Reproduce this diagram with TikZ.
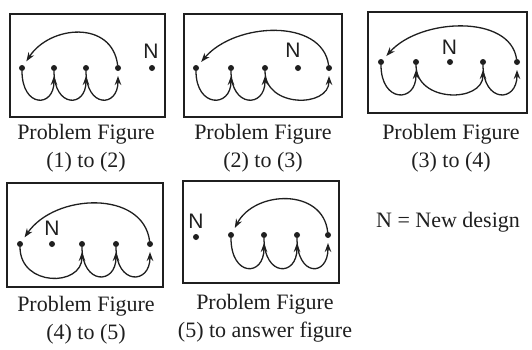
\documentclass[tikz,border=0pt]{standalone}
\usepackage{fontspec}
\setmainfont{Liberation Serif}
\newfontfamily\nfont{Liberation Sans}
\usetikzlibrary{arrows.meta}
\colorlet{ink}{black!88}
\tikzset{
  panel/.style={draw=ink, line width=1.3pt},
  dot/.style={circle, fill=ink, minimum size=6pt, inner sep=0pt, outer sep=0pt},
  arr/.style={draw=ink, line width=1.3pt, -{Stealth[length=9pt,width=6.5pt]}, shorten >=5pt},
  nlab/.style={font=\nfont\fontsize{21}{21}\selectfont, text=ink, inner sep=0pt},
  captext/.style={font=\fontsize{22}{28}\selectfont, align=center, text=ink, inner sep=0pt}
}
\begin{document}
\begin{tikzpicture}[x=1pt, y=-1pt]
\useasboundingbox (0,0) rectangle (532,349);
% Panel 1
\draw[panel] (10,14) rectangle (165,117);
\node[dot] (a1) at (22,68) {};
\node[dot] (a2) at (54,68) {};
\node[dot] (a3) at (86,68) {};
\node[dot] (a4) at (118,68) {};
\node[dot] (aN) at (152,68) {};
\node[nlab] (aNl) at (151,51) {N};
\draw[arr] (a4) .. controls (112,20) and (50,25) .. (a1);
\draw[arr] (a1) .. controls (22,108) and (54,108) .. (a2);
\draw[arr] (a2) .. controls (54,108) and (86,108) .. (a3);
\draw[arr] (a3) .. controls (86,108) and (118,108) .. (a4);
\node[captext] (c1) at (86,148) {Problem Figure\\(1) to (2)};
% Panel 2
\draw[panel] (184,14) rectangle (342,117);
\node[dot] (b1) at (196,68) {};
\node[dot] (b2) at (231,68) {};
\node[dot] (b3) at (265,68) {};
\node[dot] (bN) at (298,68) {};
\node[dot] (b4) at (329,68) {};
\node[nlab] (bNl) at (293,50) {N};
\draw[arr] (b4) .. controls (322,18) and (235,22) .. (b1);
\draw[arr] (b1) .. controls (196,108) and (231,108) .. (b2);
\draw[arr] (b2) .. controls (231,108) and (265,108) .. (b3);
\draw[arr] (b3) .. controls (265,108) and (329,108) .. (b4);
\node[captext] (c2) at (263,148) {Problem Figure\\(2) to (3)};
% Panel 3
\draw[panel] (368,12) rectangle (527,113);
\node[dot] (c1d) at (381,62) {};
\node[dot] (c2d) at (416,62) {};
\node[dot] (cN) at (450,62) {};
\node[dot] (c3d) at (483,62) {};
\node[dot] (c4d) at (517,62) {};
\node[nlab] (cNl) at (449.5,47) {N};
\draw[arr] (c4d) .. controls (510,14) and (420,18) .. (c1d);
\draw[arr] (c1d) .. controls (381,103) and (416,103) .. (c2d);
\draw[arr] (c2d) .. controls (416,103) and (483,103) .. (c3d);
\draw[arr] (c3d) .. controls (483,103) and (517,103) .. (c4d);
\node[captext] (c3) at (451,148) {Problem Figure\\(3) to (4)};
% Panel 4
\draw[panel] (7,183) rectangle (163,287);
\node[dot] (d1) at (20,244) {};
\node[dot] (dN) at (52,244) {};
\node[dot] (d2) at (82,244) {};
\node[dot] (d3) at (116,244) {};
\node[dot] (d4) at (150,244) {};
\node[nlab] (dNl) at (52,228) {N};
\draw[arr] (d4) .. controls (143,190) and (55,193) .. (d1);
\draw[arr] (d1) .. controls (20,287) and (82,287) .. (d2);
\draw[arr] (d2) .. controls (82,285) and (116,285) .. (d3);
\draw[arr] (d3) .. controls (116,285) and (150,285) .. (d4);
\node[captext] (c4) at (86,320) {Problem Figure\\(4) to (5)};
% Panel 5
\draw[panel] (183,181) rectangle (339,283);
\node[dot] (eN) at (196,237) {};
\node[nlab] (eNl) at (196,221) {N};
\node[dot] (e1) at (231,235) {};
\node[dot] (e2) at (264,235) {};
\node[dot] (e3) at (297,235) {};
\node[dot] (e4) at (328,235) {};
\draw[arr] (e4) .. controls (323,188) and (255,190) .. (e1);
\draw[arr] (e1) .. controls (231,277) and (264,277) .. (e2);
\draw[arr] (e2) .. controls (264,277) and (297,277) .. (e3);
\draw[arr] (e3) .. controls (297,277) and (328,277) .. (e4);
\node[captext] (c5) at (265,318) {Problem Figure\\(5) to answer figure};
% Legend
\node[captext] (leg) at (448,222) {N = New design};
\end{tikzpicture}
\end{document}
